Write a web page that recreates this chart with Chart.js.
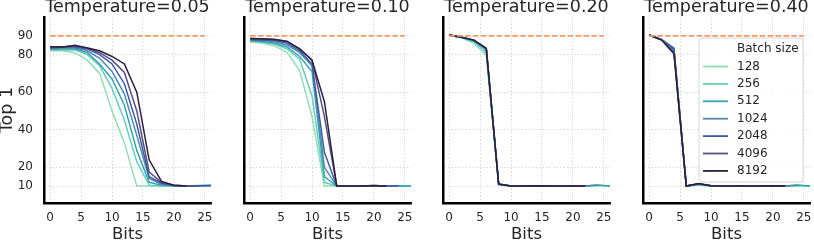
<!DOCTYPE html>
<html>
<head>
<meta charset="utf-8">
<script src="https://cdn.jsdelivr.net/npm/chart.js@4.4.1/dist/chart.umd.min.js"></script>
<style>
  html, body { margin: 0; padding: 0; background: #fff; }
  #wrap { position: relative; width: 814px; height: 245px; overflow: hidden; }
  #wrap canvas { position: absolute; top: 0; }
</style>
</head>
<body>
<div id="wrap"></div>
<script>
// valeurs
const bits = [0, 2, 4, 6, 8, 10, 12, 14, 16, 18, 20, 22, 24, 26];
const batchSizes = ['128', '256', '512', '1024', '2048', '4096', '8192'];
const temperatures = ['0.05', '0.10', '0.20', '0.40'];
const xTicks = [0, 5, 10, 15, 20, 25];
const yTicks = [10, 20, 40, 60, 80, 90];
const refTop1 = 90;
const refBits = [0, 25];

const top1T005 = [
    [82, 82, 81, 77, 70, 50, 33, 10, 10, 10, 10, 10, 10.5, 10],
    [82.5, 82.5, 82.5, 80, 74, 62, 45, 23, 10.5, 10, 10, 10, 10.2, 10.3],
    [83, 83, 83, 81, 75, 67, 53, 29, 12, 10.5, 10, 10, 10.2, 10.3],
    [83, 83.5, 83.5, 82, 78, 71, 59, 37, 14, 11, 10.3, 10, 10.2, 10.3],
    [83.5, 84, 84, 83, 80, 75, 64.5, 43, 15, 11.5, 10.5, 10, 10.2, 10.3],
    [84, 84, 84.5, 83.5, 81, 77, 70.5, 50, 17.5, 12, 10.5, 10, 10.2],
    [84.2, 84, 85, 83.5, 82, 79, 75, 60, 24, 12.5, 10.5, 10]
];
const top1T010 = [
    [86.8, 86, 84.5, 81, 71.5, 47, 10, 10, 10, 10, 10, 10, 10.2, 10],
    [87, 86.5, 85.5, 83, 77.5, 58, 12, 10, 10, 10, 10, 10, 10.2, 10],
    [87.5, 87, 86, 84, 79, 71, 15, 10, 10, 10, 10, 10, 10.2, 10],
    [87.8, 87.5, 86.8, 85, 81, 74, 20, 10, 10, 10, 10, 10, 10.2],
    [88, 87.8, 87.5, 86, 82, 75, 28, 10, 10, 10, 10, 10, 10.2],
    [88.5, 88.3, 88, 87, 83, 77, 47, 10, 10, 10, 10.3, 10],
    [88.6, 88.4, 88, 87, 83, 77, 55, 10, 10, 10, 10.3, 10]
];
const top1T020 = [
    [90.2, 89, 86, 79.5, 10.5, 10, 10, 10, 10, 10, 10.2, 10, 10.5, 10],
    [90.3, 89, 86.8, 81, 10.8, 10, 10, 10, 10, 10, 10.2, 10, 10.6, 10],
    [90.4, 89.2, 87.3, 82.5, 11, 10, 10, 10, 10, 10, 10.2, 10, 10.5, 10],
    [90.4, 89.2, 87.5, 83, 11, 10, 10, 10.2, 10, 10, 10.2, 10, 10.4],
    [90.4, 89.2, 87.7, 83.2, 11, 10, 10, 10.2, 10, 10, 10.2, 10],
    [90.4, 89.2, 87.7, 83.3, 11.1, 10, 10, 10.2, 10, 10, 10, 10],
    [90.4, 89.2, 87.7, 83.3, 11.1, 10, 10, 10.2, 10, 10, 10, 10]
];
const top1T040 = [
    [90.3, 88, 82, 10, 10.8, 10, 10, 10, 10, 10, 10, 10, 10.5, 10],
    [90.3, 88, 82.5, 10, 10.8, 10, 10, 10, 10, 10, 10, 10, 10.5, 10],
    [90.4, 88, 83, 10, 11, 10, 10, 10, 10, 10, 10.2, 10, 10.5, 10],
    [90.4, 88, 83.5, 10, 11, 10.2, 10, 10, 10, 10, 10.2, 10, 10.4],
    [90.4, 88, 83, 10, 11.2, 10.2, 10, 10, 10, 10, 10.2, 10],
    [90.4, 87.8, 81.5, 10, 11.3, 10.2, 10, 10, 10, 10, 10.2, 10],
    [90.4, 87.7, 80.5, 10, 11.4, 10.2, 10, 10, 10, 10, 10.2, 10]
];
const top1ByTemp = [top1T005, top1T010, top1T020, top1T040];

const colors = ['#8fdfb2', '#64cdbb', '#35a6b0', '#5088b0', '#3b5aa6', '#55507f', '#2c1e3d'];
const refColor = '#f09868';
const textColor = '#262626';
const fontFamily = '"DejaVu Sans", sans-serif';

// position des zones de tracé (px)
const plotLefts = [44, 244, 443, 643];
const plotWidth = 167;
const plotBottom = 203;
const H = 245;

// légende dessinée dans le dernier panneau
const legendPlugin = {
    id: 'batchLegend',
    afterDatasetsDraw(chart) {
        const ctx = chart.ctx;
        const area = chart.chartArea;
        const x0 = area.left + 56, y0 = area.top + 21;
        const w = 104, h = 144;
        ctx.save();
        ctx.beginPath();
        ctx.roundRect(x0, y0, w, h, 3);
        ctx.fillStyle = 'rgba(255,255,255,0.85)';
        ctx.fill();
        ctx.strokeStyle = '#d6d6d6';
        ctx.lineWidth = 1;
        ctx.stroke();
        ctx.font = '12px ' + fontFamily;
        ctx.fillStyle = textColor;
        ctx.textBaseline = 'middle';
        ctx.textAlign = 'left';
        ctx.fillText('Batch size', x0 + 38, y0 + 11);
        batchSizes.forEach((b, i) => {
            const y = y0 + 28.5 + i * 17.4;
            ctx.strokeStyle = colors[i];
            ctx.lineWidth = 1.8;
            ctx.beginPath();
            ctx.moveTo(x0 + 4, y);
            ctx.lineTo(x0 + 29, y);
            ctx.stroke();
            ctx.fillText(b, x0 + 38, y);
        });
        ctx.restore();
    }
};

function makePanel(p) {
    const first = p === 0;
    const axisW = first ? 44 : 6;
    const canvas = document.createElement('canvas');
    const cw = axisW + plotWidth + 3;
    canvas.width = cw;
    canvas.height = H;
    canvas.style.left = (plotLefts[p] - axisW) + 'px';
    canvas.style.width = cw + 'px';
    canvas.style.height = H + 'px';
    document.getElementById('wrap').appendChild(canvas);

    const series = top1ByTemp[p];
    const datasets = series.map((vals, i) => ({
        label: batchSizes[i],
        data: vals.map((v, j) => ({ x: bits[j], y: v })),
        borderColor: colors[i],
        borderWidth: 1.5,
        pointRadius: 0,
        tension: 0,
        fill: false,
        order: batchSizes.length - i
    }));
    datasets.push({
        label: 'ref',
        data: refBits.map(b => ({ x: b, y: refTop1 })),
        borderColor: refColor,
        borderWidth: 1.7,
        borderDash: [5.5, 2.4],
        pointRadius: 0,
        order: -1
    });

    new Chart(canvas.getContext('2d'), {
        type: 'line',
        data: { datasets },
        plugins: p === 3 ? [legendPlugin] : [],
        options: {
            responsive: false,
            animation: false,
            devicePixelRatio: 1,
            layout: { padding: { left: 0, right: 3, top: 0, bottom: 0 } },
            plugins: {
                legend: { display: false },
                tooltip: { enabled: false },
                title: {
                    display: true,
                    fullSize: false,
                    text: 'Temperature=' + temperatures[p],
                    color: textColor,
                    font: { family: fontFamily, size: 17.5, weight: 'normal', lineHeight: '17px' },
                    padding: { top: -1.5, bottom: 1.5 }
                }
            },
            scales: {
                x: {
                    type: 'linear',
                    min: -1,
                    max: 26,
                    afterBuildTicks: s => { s.ticks = xTicks.map(v => ({ value: v })); },
                    afterFit: s => {
                        s.height = H - plotBottom;
                        s.paddingLeft = 0;
                        s.paddingRight = 0;
                    },
                    ticks: {
                        color: textColor,
                        padding: 8,
                        font: { family: fontFamily, size: 12 },
                        maxRotation: 0
                    },
                    grid: { color: '#cfcfcf', lineWidth: 0.8, drawTicks: false },
                    border: { display: true, color: '#000', width: 2.5, dash: [1.5, 2] },
                    title: {
                        display: true,
                        text: 'Bits',
                        color: textColor,
                        font: { family: fontFamily, size: 16.5 },
                        padding: { top: 0, bottom: 0 }
                    }
                },
                y: {
                    min: 1,
                    max: 100,
                    afterBuildTicks: s => { s.ticks = yTicks.map(v => ({ value: v })); },
                    afterFit: s => {
                        s.width = axisW;
                        s.paddingTop = 0;
                        s.paddingBottom = 0;
                    },
                    ticks: {
                        display: first,
                        color: textColor,
                        padding: 11,
                        font: { family: fontFamily, size: 12 }
                    },
                    grid: { color: '#cfcfcf', lineWidth: 0.8, drawTicks: false },
                    border: { display: true, color: '#000', width: 2.5, dash: [1.5, 2] },
                    title: {
                        display: first,
                        text: 'Top 1',
                        color: textColor,
                        font: { family: fontFamily, size: 17.5, lineHeight: '15px' },
                        padding: { top: 0, bottom: 0 }
                    }
                }
            }
        }
    });
}

temperatures.forEach((t, p) => makePanel(p));
</script>
</body>
</html>
